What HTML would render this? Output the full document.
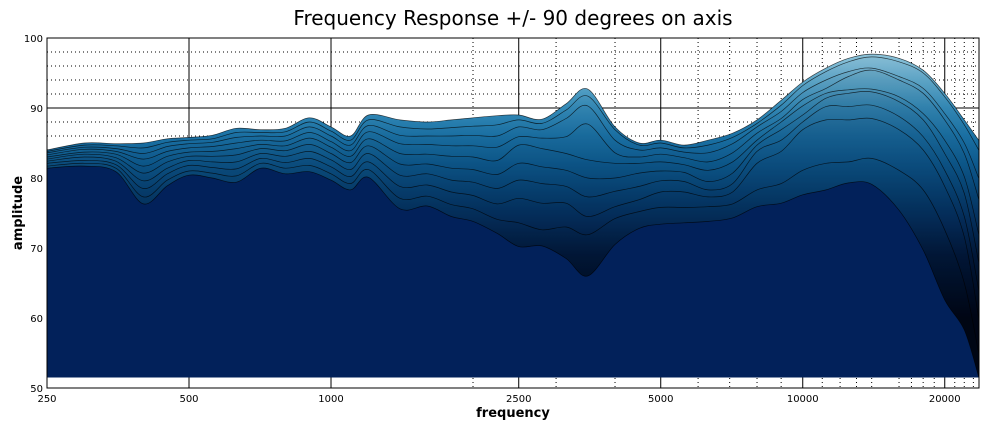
<!DOCTYPE html>
<html><head><meta charset="utf-8"><style>
html,body{margin:0;padding:0;background:#fff;}
svg{display:block;font-family:"DejaVu Sans","Liberation Sans",sans-serif;}
</style></head><body>
<svg id="chart" width="987" height="425" viewBox="0 0 987 425" xmlns="http://www.w3.org/2000/svg">
<defs>
<linearGradient id="ampGrad" gradientUnits="userSpaceOnUse" x1="0" y1="24" x2="0" y2="318">
<stop offset="0" stop-color="#c8e6f0"/>
<stop offset="0.095" stop-color="#92c7dc"/>
<stop offset="0.19" stop-color="#60a8c9"/>
<stop offset="0.286" stop-color="#348ab7"/>
<stop offset="0.38" stop-color="#1b72a5"/>
<stop offset="0.476" stop-color="#0e5c90"/>
<stop offset="0.571" stop-color="#084778"/>
<stop offset="0.667" stop-color="#053260"/>
<stop offset="0.786" stop-color="#021a3a"/>
<stop offset="1" stop-color="#000510"/>
</linearGradient>
<clipPath id="plotClip"><rect x="47" y="38" width="932" height="350"/></clipPath>
</defs>
<text x="513" y="25" text-anchor="middle" font-size="20">Frequency Response +/- 90 degrees on axis</text>
<g id="grid"></g>
<g id="layers" clip-path="url(#plotClip)"></g>
<rect x="47" y="38" width="932" height="350" fill="none" stroke="#000" stroke-width="1"/>
<g id="axes"></g>
<text transform="translate(22,213) rotate(-90)" text-anchor="middle" font-size="13" font-weight="bold">amplitude</text>
<text x="513" y="417" text-anchor="middle" font-size="13" font-weight="bold">frequency</text>
</svg>
<script>
const freqs = [250,300,350,400,450,500,560,630,710,800,900,1000,1100,1200,1400,1600,1800,2000,2250,2500,2800,3150,3500,4000,4500,5000,5600,6300,7100,8000,9000,10000,11200,12500,14000,16000,18000,20000,22000,23600];
const deg0  = [84,85,84.9,85,85.6,85.8,86.1,87.1,86.9,87.1,88.6,87.3,86,89,88.3,88,88.3,88.6,88.9,89,88.4,90.6,92.7,87.3,85,85.4,84.7,85.4,86.4,88.3,91.1,93.7,95.7,97.1,97.7,97.1,95.4,92.1,88.3,85.4];
const deg10 = [83.8,84.7,84.6,84.3,85.1,85.4,85.6,86.5,86.5,86.6,88,86.7,85.4,88.3,87.3,87,87.2,87.4,87.6,88.3,87.8,89.7,91.7,86.9,84.7,85,84.3,84.7,85.8,87.8,90.4,93.2,95.2,96.6,97.3,96.6,95,91.6,87.6,84];
const deg20 = [83.6,84.4,84.2,83.5,84.5,84.9,85.1,85.8,86,86,87.3,86,84.7,87.5,86.1,86,86,86.1,86,87.3,86.9,88.5,90.3,85.4,84,84.3,83.7,83.6,84.9,87.3,89.5,92.2,94,95.2,95.7,94.5,92.8,89.2,85,80];
const deg30 = [83.3,84.1,83.8,82.7,83.8,84.3,84.5,85,85.4,85.3,86.5,85.2,83.9,86.6,84.9,84.8,84.6,84.6,84.4,85.9,85.7,85.9,87.7,83.6,83,83.4,82.9,82.3,83.6,86.4,88.5,91.2,92.8,94.5,95.4,94,92.1,88.3,83.5,77];
const deg40 = [83,83.7,83.4,81.7,83.1,83.7,83.8,84.2,84.8,84.6,85.7,84.4,83.1,85.6,83.5,83.4,83.1,83,82.5,84.7,84.2,83.5,82.6,82.1,82.1,82.3,81.9,81.1,82.3,85.4,88,90.3,92.1,92.6,92.7,91.6,89.2,85.4,80.2,72];
const deg50 = [82.7,83.4,82.9,80.7,82.3,83.1,83.1,83.3,84.2,83.9,84.8,83.5,82.2,84.6,82,82,81.4,81.2,80.5,82.1,81.6,81.1,80,80,80.7,81,80.8,79.5,80.7,84.7,86.9,89,91.4,92.1,92.3,90.9,88.3,83.5,77.8,68];
const deg60 = [82.4,83,82.4,79.6,81.4,82.5,82.3,82.3,83.5,83.1,83.8,82.6,81.2,83.5,80.4,80.6,79.7,79.4,78.5,79.7,79.2,78.8,77.3,78.1,78.8,79.6,79.5,78.3,79.2,83.8,85.4,88,90.2,90.2,90.4,88.8,85.9,81.1,74.5,64];
const deg70 = [82.1,82.5,81.9,78.5,80.6,81.8,81.5,81.3,82.8,82.2,82.8,81.6,80.2,82.3,78.8,79,78,77.5,76.3,77.1,76.4,76.4,74.5,75.9,76.9,78,78,77.3,78,82.1,83.8,86.9,88.3,88.3,88.5,86.9,84,78.8,71.6,60];
const deg80 = [81.7,82.1,81.4,77.3,79.7,81,80.7,80.3,82.1,81.4,81.8,80.6,79.2,81.2,77.1,77.4,76.2,75.6,74.1,73.6,72.6,73,71.9,74.2,75.2,75.8,75.8,75.9,76.3,78.3,79.2,81.1,82.1,82.3,82.8,81.1,78.3,72.6,65,55];
const deg90 = [81.4,81.7,80.9,76.3,78.9,80.4,80,79.4,81.4,80.6,80.9,79.7,78.3,80.1,75.6,76,74.5,73.8,72.1,70.2,70.3,68.5,66,70.5,72.8,73.4,73.6,73.8,74.3,75.9,76.4,77.6,78.3,79.3,79.1,75.4,69.7,62.6,58.3,51.6];
const series = [deg0,deg10,deg20,deg30,deg40,deg50,deg60,deg70,deg80,deg90];
const seriesNames = ['0','10','20','30','40','50','60','70','80','90'];
const yTicks = [50,60,70,80,90,100];
const yMinor = [52,54,56,58,62,64,66,68,72,74,76,78,82,84,86,88,92,94,96,98];
const xTicks = [250,500,1000,2500,5000,10000,20000];
const xMinor = [2000,3000,4000,6000,7000,8000,9000,11000,12000,13000,14000,16000,17000,18000,19000,21000,22000,23000];
const baseAmp = 51.5;

const X0=47, X1=979, Y0=38, Y1=388, FMIN=250, FMAX=23640, AMIN=50, AMAX=100;
function xs(f){return X0+(X1-X0)*Math.log(f/FMIN)/Math.log(FMAX/FMIN);}
function ys(a){return Y1-(Y1-Y0)*(a-AMIN)/(AMAX-AMIN);}
const NS='http://www.w3.org/2000/svg';
function mk(tag,attrs,parent){const e=document.createElementNS(NS,tag);for(const k in attrs)e.setAttribute(k,attrs[k]);parent.appendChild(e);return e;}

const grid=document.getElementById('grid');
yMinor.forEach(v=>{const l=mk('line',{x1:X0,x2:X1,y1:ys(v),y2:ys(v),stroke:'#000','stroke-width':1,'stroke-dasharray':'1,3'},grid);

});
xMinor.forEach(v=>{const l=mk('line',{x1:xs(v),x2:xs(v),y1:Y0,y2:Y1,stroke:'#000','stroke-width':1,'stroke-dasharray':'1,3'},grid);

});
yTicks.forEach(v=>{const l=mk('line',{x1:X0,x2:X1,y1:ys(v),y2:ys(v),stroke:'#000','stroke-width':1},grid);

});
xTicks.forEach(v=>{const l=mk('line',{x1:xs(v),x2:xs(v),y1:Y0,y2:Y1,stroke:'#000','stroke-width':1},grid);

});

function curvePath(vals){
  const pts=freqs.map((f,i)=>[xs(f),ys(vals[i])]);
  let d='M'+pts[0][0].toFixed(1)+','+pts[0][1].toFixed(1);
  for(let i=0;i<pts.length-1;i++){
    const p0=pts[Math.max(0,i-1)],p1=pts[i],p2=pts[i+1],p3=pts[Math.min(pts.length-1,i+2)];
    const c1=[p1[0]+(p2[0]-p0[0])/6,p1[1]+(p2[1]-p0[1])/6];
    const c2=[p2[0]-(p3[0]-p1[0])/6,p2[1]-(p3[1]-p1[1])/6];
    d+=' C'+c1[0].toFixed(1)+','+c1[1].toFixed(1)+' '+c2[0].toFixed(1)+','+c2[1].toFixed(1)+' '+p2[0].toFixed(1)+','+p2[1].toFixed(1);
  }
  return d;
}
const layers=document.getElementById('layers');
const xa=xs(freqs[0]), xb=xs(freqs[freqs.length-1]), yb=ys(baseAmp);
series.forEach((vals,k)=>{
  const c=curvePath(vals);
  const area=c+' L'+xb.toFixed(1)+','+yb.toFixed(1)+' L'+xa.toFixed(1)+','+yb.toFixed(1)+' Z';
  const g=mk('g',{},layers);
  
  
  if(k===series.length-1){
    mk('path',{d:area,fill:'#02215a'},g);
  } else {
    mk('path',{d:area,fill:'url(#ampGrad)'},g);
    mk('path',{d:area,fill:'rgba(0,8,40,'+(k*0.025).toFixed(3)+')'},g);
  }
  const ln=mk('path',{d:c,fill:'none',stroke:'#000','stroke-width':0.7,'stroke-opacity':0.7},g);
  
  
});

const axes=document.getElementById('axes');
yTicks.forEach(v=>{
  const t=mk('text',{x:43,y:ys(v)+4,'text-anchor':'end','font-size':10},axes);
  t.textContent=v;
  
  
});
xTicks.forEach(v=>{
  const t=mk('text',{x:xs(v),y:402,'text-anchor':'middle','font-size':10},axes);
  t.textContent=v;
  
  
});
</script>
</body></html>
